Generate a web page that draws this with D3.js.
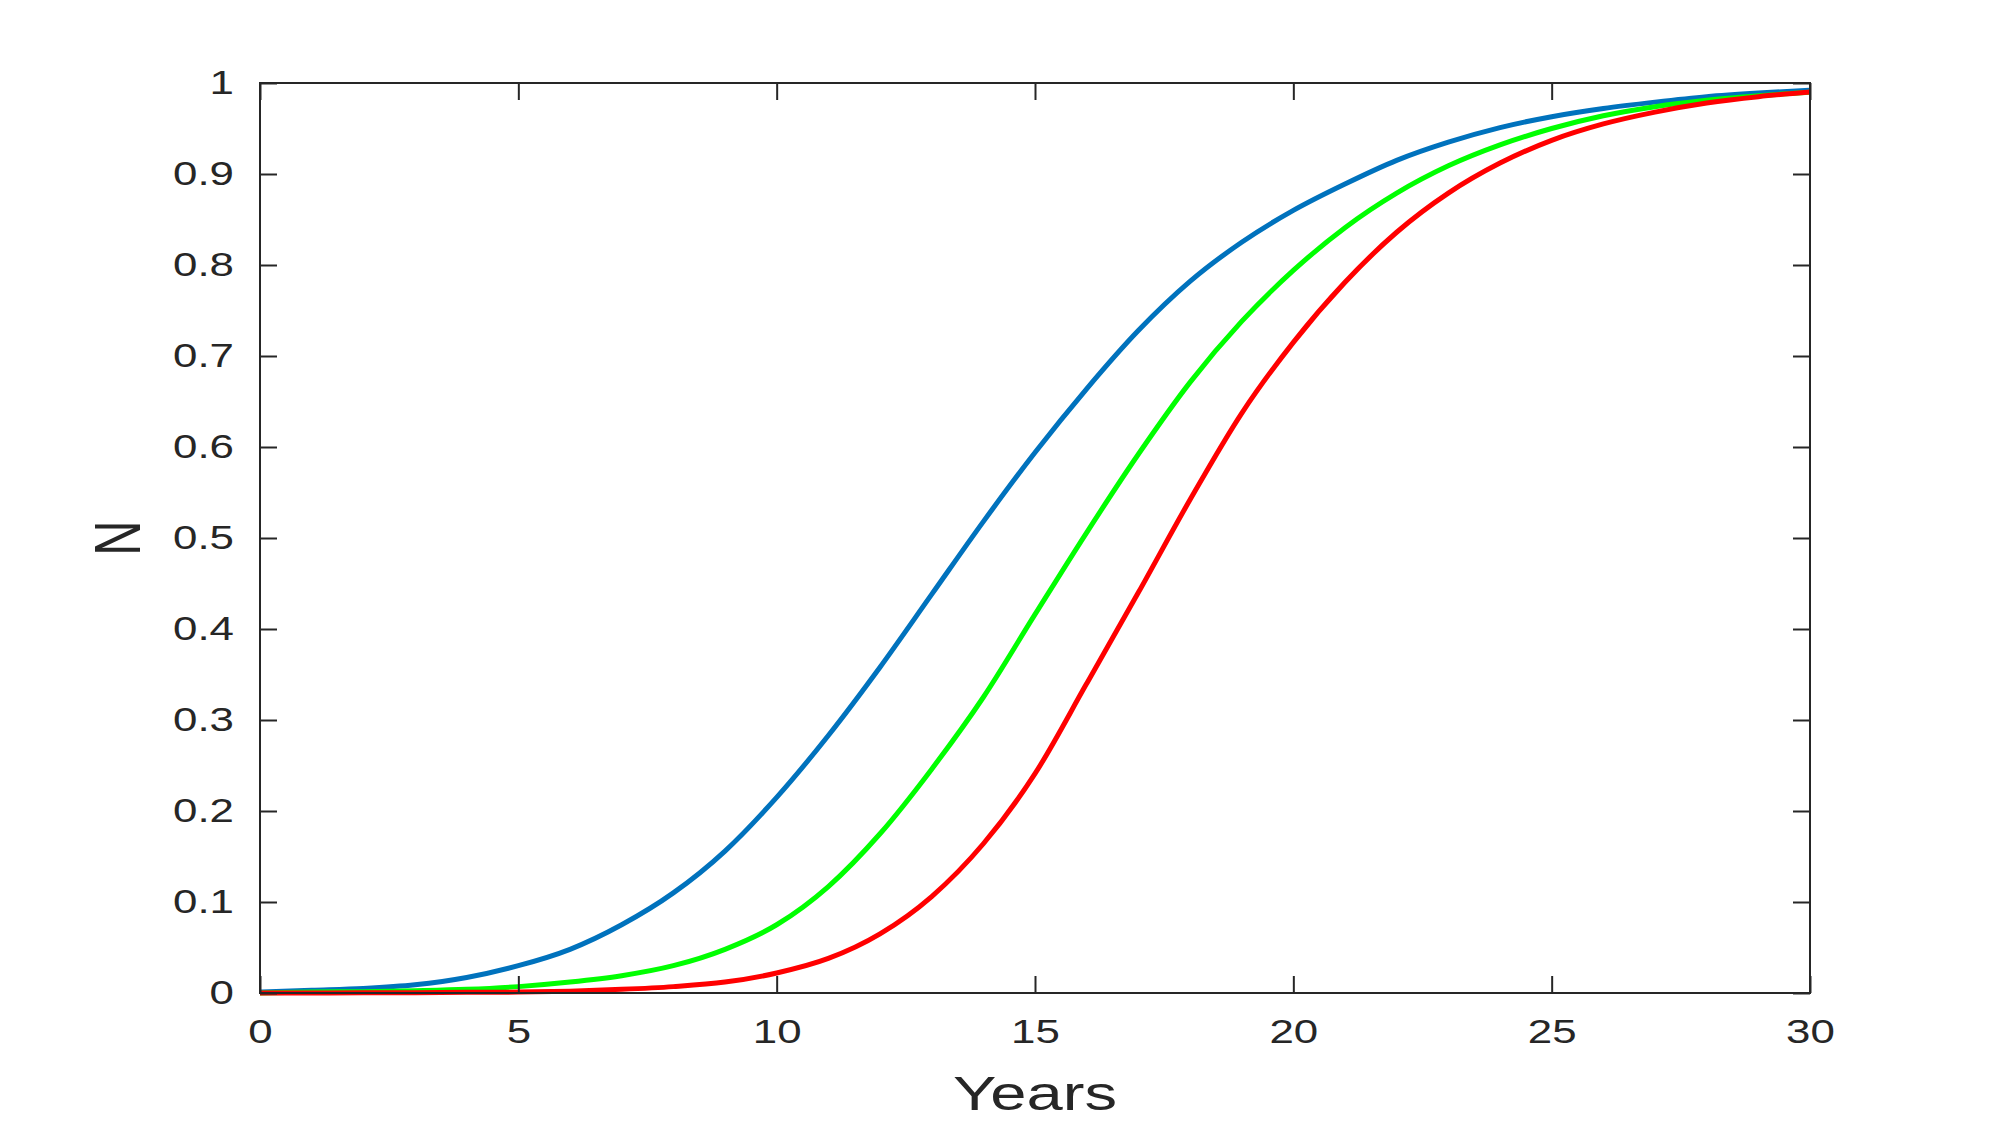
<!DOCTYPE html>
<html>
<head>
<meta charset="utf-8">
<script src="https://cdn.jsdelivr.net/npm/d3@7"></script>
<style>
  html, body { margin: 0; padding: 0; background: #fff; }
  text { font-family: "Liberation Sans", Arial, Helvetica, sans-serif; fill: #262626; }
</style>
</head>
<body>
<div id="chart-container"></div>
<script>
// values
const years = [0,1,2,3,4,5,6,7,8,9,10,11,12,13,14,15,16,17,18,19,20,21,22,23,24,25,26,27,28,29,30];
const blueN = [0.001,0.003,0.005,0.009,0.017,0.030,0.048,0.075,0.110,0.156,0.215,0.283,0.358,0.438,0.518,0.594,0.664,0.728,0.782,0.825,0.860,0.889,0.915,0.935,0.951,0.963,0.972,0.979,0.985,0.989,0.992];
const greenN = [0,0.001,0.0015,0.0025,0.004,0.007,0.012,0.019,0.030,0.048,0.075,0.117,0.175,0.246,0.325,0.416,0.506,0.592,0.671,0.738,0.794,0.841,0.879,0.909,0.932,0.950,0.964,0.974,0.981,0.986,0.990];
const redN = [0,0.0001,0.0002,0.0004,0.0007,0.001,0.002,0.004,0.007,0.012,0.022,0.038,0.065,0.106,0.164,0.241,0.340,0.440,0.542,0.637,0.715,0.781,0.836,0.879,0.912,0.937,0.955,0.968,0.978,0.985,0.990];
const xTicks = [0,5,10,15,20,25,30];
const yTicks = [0,0.1,0.2,0.3,0.4,0.5,0.6,0.7,0.8,0.9,1];
const seriesColors = ["#0072BD", "#00FF00", "#FF0000"];

const width = 2000;
const height = 1125;
const margin = {top: 83, right: 190, bottom: 132, left: 260};
const stretch = 1.33; // the picture's text is drawn wide

const innerW = width - margin.left - margin.right;
const innerH = height - margin.top - margin.bottom;

const svg = d3.select("#chart-container")
  .append("svg")
  .attr("width", width)
  .attr("height", height);

const g = svg.append("g")
  .attr("transform", `translate(${margin.left},${margin.top})`);

const x = d3.scaleLinear().domain([0, 30]).range([0, innerW]);
const y = d3.scaleLinear().domain([0, 1]).range([innerH, 0]);

// curves
const line = d3.line()
  .x((d) => x(d[0]))
  .y((d) => y(d[1]))
  .curve(d3.curveMonotoneX);

[blueN, greenN, redN].forEach((vals, i) => {
  g.append("path")
    .datum(years.map((t, j) => [t, vals[j]]))
    .attr("d", line)
    .attr("fill", "none")
    .attr("stroke", seriesColors[i])
    .attr("stroke-width", 5)
    .attr("stroke-linejoin", "round");
});

// axes, ticks pointing inward on all four sides
const fmt = d3.format("");
const bottom = g.append("g")
  .attr("transform", `translate(0,${innerH})`)
  .call(d3.axisBottom(x).tickValues(xTicks).tickFormat(fmt).tickSizeInner(-17).tickSizeOuter(0).tickPadding(27));
const left = g.append("g")
  .call(d3.axisLeft(y).tickValues(yTicks).tickFormat(fmt).tickSizeInner(-17).tickSizeOuter(0).tickPadding(26));
g.append("g")
  .call(d3.axisTop(x).tickValues(xTicks).tickFormat("").tickSizeInner(-17).tickSizeOuter(0));
g.append("g")
  .attr("transform", `translate(${innerW},0)`)
  .call(d3.axisRight(y).tickValues(yTicks).tickFormat("").tickSizeInner(-17).tickSizeOuter(0));

g.selectAll(".domain").remove();
g.selectAll(".tick line").attr("stroke", "#262626").attr("stroke-width", 2);

bottom.selectAll(".tick text")
  .attr("font-size", 33)
  .attr("font-family", null)
  .attr("fill", "#262626")
  .each(function() {
    const t = d3.select(this);
    const yy = +t.attr("y");
    t.attr("y", 0).attr("transform", `translate(0,${yy}) scale(${stretch},1)`);
  });

left.selectAll(".tick text")
  .attr("font-size", 33)
  .attr("font-family", null)
  .attr("fill", "#262626")
  .each(function() {
    const t = d3.select(this);
    const xx = +t.attr("x");
    t.attr("x", 0).attr("transform", `translate(${xx},0) scale(${stretch},1)`);
  });

// box
g.append("rect")
  .attr("width", innerW)
  .attr("height", innerH)
  .attr("fill", "none")
  .attr("stroke", "#262626")
  .attr("stroke-width", 2);

// axis titles
svg.append("text")
  .attr("text-anchor", "middle")
  .attr("font-size", 49)
  .attr("transform", `translate(${margin.left + innerW / 2},1110) scale(${stretch},1)`)
  .text("Years");

svg.append("text")
  .attr("text-anchor", "middle")
  .attr("font-size", 49)
  .attr("transform", `translate(140,${margin.top + innerH / 2}) scale(${stretch},1) rotate(-90)`)
  .text("N");
</script>
</body>
</html>
